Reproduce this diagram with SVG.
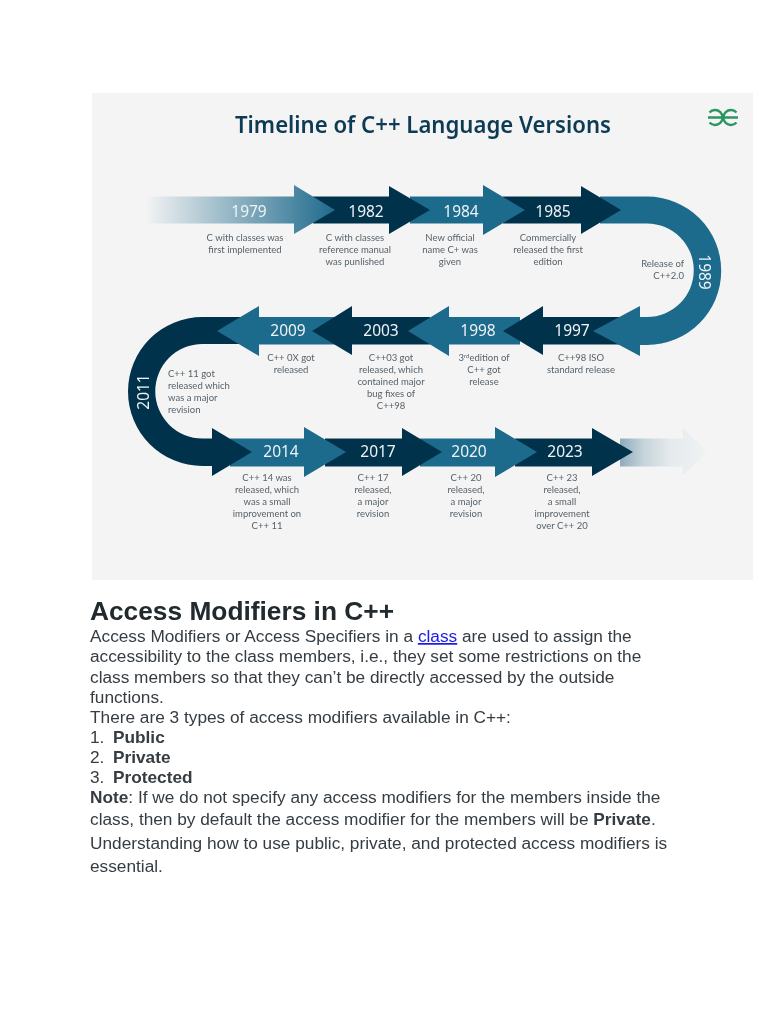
<svg xmlns="http://www.w3.org/2000/svg" width="768" height="1024" viewBox="0 0 768 1024">
<style>
.d{fill:#04324c}.b{fill:#1f6a8c}
.y{font:15.5px "Noto Sans",sans-serif;fill:#eef3f6;text-anchor:middle}
.t{font:9.5px Lato,"Noto Sans",sans-serif;fill:#56626a;text-anchor:middle}
.h{font:600 24px "Noto Sans",sans-serif;fill:#0d3a54}
.p{font:17.25px "Liberation Sans",Arial,sans-serif;fill:#343c42}
</style>
<defs>
<linearGradient id="fi" gradientUnits="userSpaceOnUse" x1="145" y1="0" x2="335" y2="0"><stop offset="0" stop-color="#f4f4f4"/><stop offset="1" stop-color="#1f6a8c"/></linearGradient>
<linearGradient id="fo" gradientUnits="userSpaceOnUse" x1="600" y1="0" x2="708" y2="0"><stop offset="0" stop-color="#5f8ba2"/><stop offset="0.4" stop-color="#c5d3da"/><stop offset="0.65" stop-color="#e5eaed"/><stop offset="1" stop-color="#f1f3f4"/></linearGradient>
<filter id="s" x="0" y="0" width="1" height="1"><feGaussianBlur stdDeviation="0.45"/></filter>
<filter id="s2" x="0" y="0" width="1" height="1"><feGaussianBlur stdDeviation="0.3"/></filter>
</defs>
<rect width="768" height="1024" fill="#fff"/>
<g filter="url(#s)">
<rect id="panel" x="92" y="93" width="661" height="487" fill="#f4f4f4"/>
<text id="title" class="h" x="235" y="133" textLength="376" lengthAdjust="spacingAndGlyphs">Timeline of C++ Language Versions</text>
<g id="logo" fill="none" stroke="#2b9663" stroke-width="2.4"><path d="M708 117.500H738M709.500 112.500A7.500 7.500 0 1 1 709.500 122.500M736.500 112.500A7.500 7.500 0 1 0 736.500 122.500"/></g>
<g id="connectors"/>
<g id="n2023fade"><path fill="url(#fo)" d="M620 438.500H683V428L708 452L683 475V466.500H620Z"/></g>
<g id="n2023"><path class="d" d="M515 438.500H592V428L633 452L592 476V466.500H515Z"/></g>
<g id="n2020"><path class="b" d="M420 438.500H495V427L537 452L495 477V466.500H420Z"/></g>
<g id="n2017"><path class="d" d="M325 438.500H402V428L442 452L402 476V466.500H325Z"/></g>
<g id="n2014"><path class="b" d="M230 438.500H304V427L346 452L304 477V466.500H230Z"/></g>
<g id="n2011"><path class="d" d="M245 317H202.500A74.500 74.500 0 0 0 202.500 466H212V476L252 452L212 428V438.500H202.500A47.250 47.250 0 0 1 202.500 344H245Z"/></g>
<g id="n2009"><path class="b" d="M335 317H259V306L217 331L259 356V344.500H335Z"/></g>
<g id="n2003"><path class="d" d="M430 317H352V306L312 331L352 355V344.500H430Z"/></g>
<g id="n1998"><path class="b" d="M520 317H449V306L408 331L449 356V344.500H520Z"/></g>
<g id="n1997"><path class="d" d="M620 317H543V306L503 331L543 355V344.500H620Z"/></g>
<g id="n1989"><path class="b" d="M600 196.500H647A74.250 74.250 0 0 1 647 345H640V356L593 331L640 306V317H647A46.750 46.750 0 0 0 647 223.500H600Z"/></g>
<g id="n1985"><path class="d" d="M503 196.500H581V186L621 210L581 234V223.500H503Z"/></g>
<g id="n1984"><path class="b" d="M410 196.500H483V185L525 210L483 235V223.500H410Z"/></g>
<g id="n1982"><path class="d" d="M313 196.500H389V186L430 210L389 234V223.500H313Z"/></g>
<g id="n1979"><path fill="url(#fi)" d="M140 196.500H294V185L335 210L294 234V223.500H140Z"/></g>
<g id="years">
<text class="y" x="249" y="217">1979</text><text class="y" x="366" y="217">1982</text><text class="y" x="461" y="217">1984</text><text class="y" x="553" y="217">1985</text>
<text class="y" transform="translate(698.500 272) rotate(90)">1989</text>
<text class="y" x="572" y="336">1997</text><text class="y" x="478" y="336">1998</text><text class="y" x="381" y="336">2003</text><text class="y" x="288" y="336">2009</text>
<text class="y" transform="translate(148.500 392) rotate(-90)">2011</text>
<text class="y" x="281" y="457">2014</text><text class="y" x="378" y="457">2017</text><text class="y" x="469" y="457">2020</text><text class="y" x="565" y="457">2023</text>
</g>
<g id="descriptions">
<text class="t" x="245" y="241">C with classes was</text><text class="t" x="245" y="253">first implemented</text>
<text class="t" x="355" y="241">C with classes</text><text class="t" x="355" y="253">reference manual</text><text class="t" x="355" y="265">was punlished</text>
<text class="t" x="450" y="241">New official</text><text class="t" x="450" y="253">name C+ was</text><text class="t" x="450" y="265">given</text>
<text class="t" x="548" y="241">Commercially</text><text class="t" x="548" y="253">released the first</text><text class="t" x="548" y="265">edition</text>
<text class="t" x="684" y="267" style="text-anchor:end">Release of</text><text class="t" x="684" y="279" style="text-anchor:end">C++2.0</text>
<text class="t" x="581" y="361">C++98 ISO</text><text class="t" x="581" y="373">standard release</text>
<text class="t" x="484" y="361">3<tspan font-size="6" dy="-3">rd</tspan><tspan dy="3">edition of</tspan></text><text class="t" x="484" y="373">C++ got</text><text class="t" x="484" y="385">release</text>
<text class="t" x="391" y="361">C++03 got</text><text class="t" x="391" y="373">released, which</text><text class="t" x="391" y="385">contained major</text><text class="t" x="391" y="397">bug fixes of</text><text class="t" x="391" y="409">C++98</text>
<text class="t" x="291" y="361">C++ 0X got</text><text class="t" x="291" y="373">released</text>
<text class="t" x="168" y="377" style="text-anchor:start">C++ 11 got</text><text class="t" x="168" y="389" style="text-anchor:start">released which</text><text class="t" x="168" y="401" style="text-anchor:start">was a major</text><text class="t" x="168" y="413" style="text-anchor:start">revision</text>
<text class="t" x="267" y="481">C++ 14 was</text><text class="t" x="267" y="493">released, which</text><text class="t" x="267" y="505">was a small</text><text class="t" x="267" y="517">improvement on</text><text class="t" x="267" y="529">C++ 11</text>
<text class="t" x="373" y="481">C++ 17</text><text class="t" x="373" y="493">released,</text><text class="t" x="373" y="505">a major</text><text class="t" x="373" y="517">revision</text>
<text class="t" x="466" y="481">C++ 20</text><text class="t" x="466" y="493">released,</text><text class="t" x="466" y="505">a major</text><text class="t" x="466" y="517">revision</text>
<text class="t" x="562" y="481">C++ 23</text><text class="t" x="562" y="493">released,</text><text class="t" x="562" y="505">a small</text><text class="t" x="562" y="517">improvement</text><text class="t" x="562" y="529">over C++ 20</text>
</g>
</g>
<g id="body" filter="url(#s2)">
<text x="90" y="620" style="font:700 26.300px 'Liberation Sans',Arial,sans-serif;fill:#20292f">Access Modifiers in C++</text>
<text class="p" x="90" y="642">Access Modifiers or Access Specifiers in a <tspan fill="#1a1ae6" text-decoration="underline">class</tspan> are used to assign the</text>
<text class="p" x="90" y="662">accessibility to the class members, i.e., they set some restrictions on the</text>
<text class="p" x="90" y="683">class members so that they can’t be directly accessed by the outside</text>
<text class="p" x="90" y="703">functions.</text>
<text class="p" x="90" y="723">There are 3 types of access modifiers available in C++:</text>
<text class="p" x="90" y="743">1.</text><text class="p" x="113" y="743"><tspan font-weight="700">Public</tspan></text>
<text class="p" x="90" y="763">2.</text><text class="p" x="113" y="763"><tspan font-weight="700">Private</tspan></text>
<text class="p" x="90" y="783">3.</text><text class="p" x="113" y="783"><tspan font-weight="700">Protected</tspan></text>
<text class="p" x="90" y="803"><tspan font-weight="700">Note</tspan>: If we do not specify any access modifiers for the members inside the</text>
<text class="p" x="90" y="825">class, then by default the access modifier for the members will be <tspan font-weight="700">Private</tspan>.</text>
<text class="p" x="90" y="849">Understanding how to use public, private, and protected access modifiers is</text>
<text class="p" x="90" y="872">essential.</text>
</g>
</svg>
